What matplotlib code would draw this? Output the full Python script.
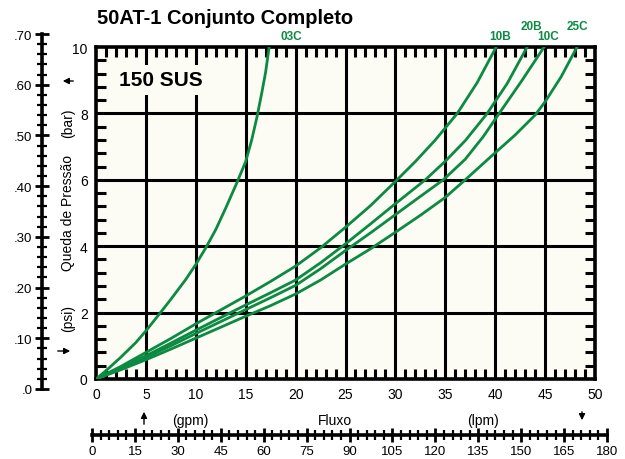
import matplotlib
matplotlib.use("Agg")
from matplotlib import pyplot as plt
from matplotlib.ticker import MultipleLocator

plt.rcParams['font.family'] = ['Liberation Sans Narrow', 'Liberation Sans', 'DejaVu Sans']

# curves: flow (gpm) vs pressure drop (psi)
gpm_03c = [0, 1, 2.5, 4, 5, 6.25, 7.5, 9, 10, 11, 12, 13, 14.1, 15, 15.6, 16.1, 16.6, 17.0, 17.35]
psi_03c = [0, 0.25, 0.66, 1.1, 1.45, 1.92, 2.4, 3.0, 3.45, 3.95, 4.5, 5.15, 5.9, 6.55, 7.2, 7.85, 8.6, 9.25, 10.0]

gpm_10b = [0, 2.5, 5, 7.5, 10, 12.5, 15, 17.5, 20, 22.5, 25, 27.5, 30, 32, 34, 36.2, 38.2, 40.1]
psi_10b = [0, 0.38, 0.8, 1.22, 1.66, 2.08, 2.5, 2.94, 3.4, 3.95, 4.57, 5.22, 5.95, 6.55, 7.2, 8.0, 8.93, 10.0]

gpm_20b = [0, 2.5, 5, 7.5, 10, 12.5, 15, 17.5, 20, 22.5, 25, 27.5, 30, 33, 35, 37, 39.2, 41.2, 43.2]
psi_20b = [0, 0.34, 0.70, 1.08, 1.47, 1.85, 2.23, 2.6, 2.98, 3.5, 4.07, 4.67, 5.28, 6.0, 6.56, 7.18, 8.0, 8.9, 10.0]

gpm_10c = [0, 2.5, 5, 7.5, 10, 12.5, 15, 17.5, 20, 22.5, 25, 27.5, 30, 32.5, 34.8, 37, 38.8, 40.4, 42.7, 44.9]
psi_10c = [0, 0.32, 0.65, 1.0, 1.37, 1.73, 2.09, 2.45, 2.82, 3.32, 3.87, 4.4, 4.95, 5.5, 6.0, 6.62, 7.3, 8.0, 9.0, 10.0]

gpm_25c = [0, 2.5, 5, 7.5, 10, 12.5, 15, 17.5, 20, 22.5, 25, 27.5, 30, 32.5, 35, 37, 39.5, 42, 44, 45, 46.6, 48.2]
psi_25c = [0, 0.28, 0.58, 0.9, 1.23, 1.56, 1.89, 2.21, 2.56, 2.98, 3.46, 3.92, 4.42, 4.93, 5.47, 6.0, 6.68, 7.35, 7.95, 8.35, 9.1, 10.0]

curve_names = ['03C', '10B', '20B', '10C', '25C']
# label positions (gpm, psi above the top)
label_pos = {'03C': (19.6, 10.15), '10B': (40.5, 10.15), '20B': (43.6, 10.45),
             '10C': (45.3, 10.15), '25C': (48.2, 10.45)}

psi_ticks = [0, 2, 4, 6, 8, 10]
gpm_ticks = [0, 5, 10, 15, 20, 25, 30, 35, 40, 45, 50]
bar_ticks = [0, 0.1, 0.2, 0.3, 0.4, 0.5, 0.6, 0.7]
bar_labels = ['.0', '.10', '.20', '.30', '.40', '.50', '.60', '.70']
lpm_ticks = [0, 15, 30, 45, 60, 75, 90, 105, 120, 135, 150, 165, 180]

green = '#0b8a42'
cream = '#fcfbf4'

fig = plt.figure(figsize=(6.25, 4.6), dpi=100)
W, H = 625, 460

# main chart
ax = fig.add_axes([96 / W, 1 - 380 / H, 499 / W, 332 / H])
ax.set_facecolor(cream)
ax.set_xlim(0, 50)
ax.set_ylim(0, 10)
for s in ax.spines.values():
    s.set_linewidth(2.6)
for x in gpm_ticks[1:-1]:
    ax.axvline(x, color='black', lw=2.2, zorder=1)
for y in psi_ticks[1:-1]:
    ax.axhline(y, color='black', lw=2.2, zorder=1)

for gx, py in [(gpm_03c, psi_03c), (gpm_10b, psi_10b), (gpm_20b, psi_20b),
               (gpm_10c, psi_10c), (gpm_25c, psi_25c)]:
    ax.plot(gx, py, color=green, lw=2.0, zorder=3, solid_joinstyle='round')

for name in curve_names:
    lx, ly = label_pos[name]
    ax.text(lx, ly, name, color=green, fontsize=8.5, fontweight='bold',
            ha='center', va='bottom', family=['Liberation Sans', 'DejaVu Sans'],
            clip_on=False)

ax.set_xticks(gpm_ticks)
ax.set_yticks(psi_ticks)
ax.xaxis.set_minor_locator(MultipleLocator(1))
ax.yaxis.set_minor_locator(MultipleLocator(0.4))
ax.tick_params(which='major', length=0, labelsize=10, pad=6)
ax.tick_params(which='minor', direction='in', length=7, width=2.2,
               top=True, right=True, bottom=True, left=True)

ax.text(2.3, 8.85, '150 SUS', fontsize=15, fontweight='bold', zorder=4,
        family=['Liberation Sans', 'DejaVu Sans'],
        bbox=dict(facecolor=cream, edgecolor='none', pad=4))

fig.text(97 / W, 1 - 18 / H, '50AT-1 Conjunto Completo', fontsize=14.5,
         fontweight='bold', va='center', ha='left')

# bar scale on the far left
axb = fig.add_axes([42 / W, 1 - 390 / H, 0.001, 355 / H])
axb.set_ylim(0, 0.7)
axb.set_xticks([])
for k in ['top', 'right', 'bottom']:
    axb.spines[k].set_visible(False)
axb.spines['left'].set_linewidth(2.6)
axb.patch.set_visible(False)
axb.set_yticks(bar_ticks)
axb.set_yticklabels(bar_labels)
axb.yaxis.set_minor_locator(MultipleLocator(0.02))
axb.tick_params(axis='y', which='major', direction='inout', length=10, width=2,
                labelsize=9.5, pad=2)
axb.tick_params(axis='y', which='minor', direction='inout', length=7, width=1.6)

# lpm scale at the bottom
axl = fig.add_axes([92 / W, 1 - 436 / H, 515 / W, 0.001])
axl.set_xlim(0, 180)
axl.set_yticks([])
for k in ['top', 'right', 'left']:
    axl.spines[k].set_visible(False)
axl.spines['bottom'].set_linewidth(2.6)
axl.patch.set_visible(False)
axl.set_xticks(lpm_ticks)
axl.xaxis.set_minor_locator(MultipleLocator(3))
axl.tick_params(axis='x', which='major', direction='inout', length=10, width=2,
                labelsize=9.5, pad=2)
axl.tick_params(axis='x', which='minor', direction='inout', length=7, width=1.6)

# axis captions
fig.text(68 / W, 1 - 123 / H, '(bar)', rotation=90, fontsize=10, ha='center', va='center')
fig.text(68 / W, 1 - 213 / H, 'Queda de Pressão', rotation=90, fontsize=10,
         ha='center', va='center')
fig.text(68 / W, 1 - 318 / H, '(psi)', rotation=90, fontsize=10, ha='center', va='center')
fig.text(190 / W, 1 - 421 / H, '(gpm)', fontsize=10, ha='center', va='center')
fig.text(335 / W, 1 - 421 / H, 'Fluxo', fontsize=10, ha='center', va='center')
fig.text(483 / W, 1 - 421 / H, '(lpm)', fontsize=10, ha='center', va='center')

arrow = dict(arrowstyle='-|>', lw=1.0, color='black', mutation_scale=9)
fig.add_artist(plt.Annotation('', xy=(60, 378), xytext=(76, 378),
                              xycoords='figure pixels', arrowprops=arrow))
fig.add_artist(plt.Annotation('', xy=(73, 108), xytext=(55, 108),
                              xycoords='figure pixels', arrowprops=arrow))
fig.add_artist(plt.Annotation('', xy=(144, 50), xytext=(144, 32),
                              xycoords='figure pixels', arrowprops=arrow))
fig.add_artist(plt.Annotation('', xy=(582, 36), xytext=(582, 50),
                              xycoords='figure pixels', arrowprops=arrow))

fig.savefig('out.png', dpi=100)
